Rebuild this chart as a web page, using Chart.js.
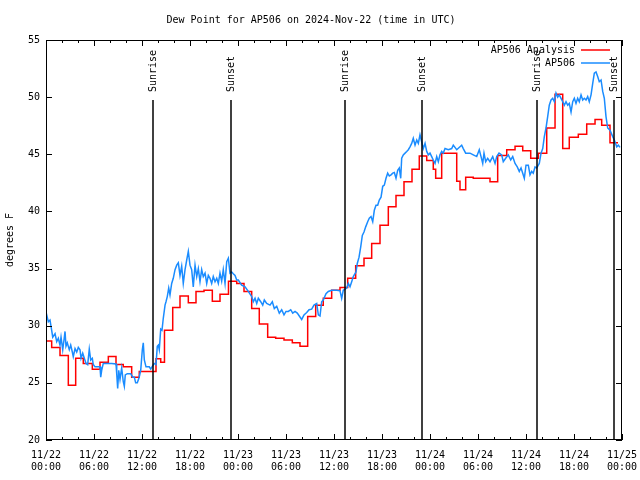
<!DOCTYPE html>
<html>
<head>
<meta charset="utf-8">
<script src="https://cdn.jsdelivr.net/npm/chart.js@4.4.1/dist/chart.umd.min.js"></script>
<style>
  html,body{margin:0;padding:0;background:#fff;}
</style>
</head>
<body>
<canvas id="chart" width="640" height="480"></canvas>
<script>
/* data: hours since 11/22 00:00 UTC */
const titleText = "Dew Point for AP506 on 2024-Nov-22 (time in UTC)";
const yTitle = "degrees F";
const tickLabels = [
  ["11/22","00:00"],["11/22","06:00"],["11/22","12:00"],["11/22","18:00"],
  ["11/23","00:00"],["11/23","06:00"],["11/23","12:00"],["11/23","18:00"],
  ["11/24","00:00"],["11/24","06:00"],["11/24","12:00"],["11/24","18:00"],
  ["11/25","00:00"]
];

const seriesNames = ["AP506 Analysis", "AP506"];

const analysisTimes = [
  0, 0.71, 1.75, 2.79, 3.71, 4.66, 5.79, 6.75, 7.79, 8.75, 9.66, 10.71, 11.66,
  13.75, 14.34, 14.81, 15.84, 16.75, 17.79, 18.75, 19.75, 20.79, 21.75, 22.81,
  23.84, 24.75, 25.71, 26.66, 27.71, 28.71, 29.75, 30.79, 31.75, 32.71, 33.71,
  34.66, 35.71, 36.75, 37.71, 38.71, 39.75, 40.71, 41.75, 42.79, 43.75, 44.75,
  45.75, 46.66, 47.59, 48.41, 48.71, 49.46, 51.34, 51.75, 52.46, 53.41, 55.5,
  56.46, 57.59, 58.63, 59.59, 60.59, 61.54, 62.59, 63.63, 64.59, 65.41, 66.54,
  67.59, 68.63, 69.46, 70.5, 71.5
];
const analysisValues = [
  28.67, 28.1, 27.4, 24.8, 27.15, 26.7, 26.2, 26.8, 27.3, 26.6, 26.4, 25.5, 26.0,
  27.1, 26.8, 29.6, 31.6, 32.6, 32.0, 33.0, 33.1, 32.15, 32.75, 33.9,
  33.7, 33.0, 31.5, 30.15, 29.0, 28.9, 28.75, 28.5, 28.2, 30.8, 31.8,
  32.4, 33.1, 33.35, 34.15, 35.25, 35.9, 37.2, 38.8, 40.4, 41.4, 42.6,
  43.7, 44.85, 44.45, 43.7, 42.9, 45.1, 42.65, 41.9, 43.0, 42.9, 42.6,
  44.9, 45.4, 45.7, 45.3, 44.65, 45.1, 47.3, 50.25, 45.5, 46.5, 46.75,
  47.65, 48.05, 47.55, 46.0, 46.0
];

const obsTimes = [
  0.00, 0.29, 0.5, 0.71, 0.84, 1.13, 1.34, 1.54, 1.75, 1.88, 2.09, 2.25, 2.38, 2.5,
  2.66, 2.91, 3.09, 3.29, 3.41, 3.63, 3.84, 4.04, 4.25, 4.38, 4.59, 4.79, 5.0, 5.21,
  5.41, 5.59, 5.79, 5.91, 6.13, 6.34, 6.75, 6.84, 6.96, 7.16, 7.59, 8.21, 8.75, 8.84,
  8.96, 9.09, 9.25, 9.46, 9.66, 9.79, 9.91, 10.16, 10.59, 10.84, 11.04, 11.21, 11.41,
  11.63, 11.84, 12.04, 12.16, 12.29, 12.5, 12.91, 13.09, 13.34, 13.54, 13.75, 13.91,
  14.04, 14.16, 14.34, 14.5, 14.66, 14.88, 15.0, 15.16, 15.34, 15.5, 15.71, 15.91,
  16.13, 16.34, 16.54, 16.75, 16.96, 17.16, 17.38, 17.59, 17.79, 18.0, 18.21, 18.41,
  18.63, 18.84, 19.04, 19.25, 19.46, 19.66, 19.88, 20.09, 20.29, 20.5, 20.71, 20.91,
  21.13, 21.34, 21.54, 21.75, 21.96, 22.16, 22.38, 22.59, 22.79, 23.0, 23.21, 23.41,
  23.63, 23.84, 24.04, 24.46, 24.88, 25.29, 25.71, 25.91, 26.13, 26.34, 26.54, 26.84,
  27.09, 27.29, 27.59, 28.0, 28.29, 28.54, 28.84, 29.16, 29.46, 29.75, 30.0, 30.29,
  30.59, 30.84, 31.13, 31.41, 31.66, 31.96, 32.25, 32.59, 32.88, 33.21, 33.5, 33.84,
  34.04, 34.25, 34.46, 34.66, 35.0, 35.29, 35.71, 36.34, 36.75, 36.96, 37.16, 37.59,
  37.79, 38.0, 38.21, 38.41, 38.75, 38.91, 39.13, 39.34, 39.54, 39.75, 39.96, 40.21,
  40.41, 40.63, 40.84, 41.04, 41.25, 41.46, 41.66, 41.88, 42.09, 42.29, 42.5, 42.71,
  42.91, 43.13, 43.34, 43.54, 43.75, 43.96, 44.16, 44.34, 44.46, 44.66, 44.88, 45.09,
  45.29, 45.5, 45.71, 45.91, 46.13, 46.34, 46.54, 46.75, 46.96, 47.16, 47.38, 47.59,
  47.79, 48.0, 48.21, 48.41, 48.63, 48.84, 49.04, 49.25, 49.46, 49.66, 49.88, 50.29,
  50.71, 50.91, 51.34, 51.96, 52.16, 52.46, 53.0, 53.41, 53.84, 54.16, 54.38, 54.59,
  54.75, 54.96, 55.21, 55.5, 55.84, 56.13, 56.34, 56.63, 56.96, 57.16, 57.46, 57.79,
  58.09, 58.34, 58.63, 58.91, 59.16, 59.38, 59.59, 59.79, 60.0, 60.29, 60.5, 60.71,
  60.91, 61.13, 61.34, 61.66, 61.88, 62.09, 62.29, 62.5, 62.71, 62.91, 63.13, 63.34,
  63.54, 63.75, 63.96, 64.16, 64.38, 64.59, 64.79, 65.0, 65.21, 65.41, 65.63, 65.84,
  66.04, 66.25, 66.46, 66.66, 66.88, 67.09, 67.29, 67.5, 67.71, 67.91, 68.13, 68.34,
  68.54, 68.75, 68.96, 69.16, 69.38, 69.59, 69.79, 70.0, 70.21, 70.5, 70.84, 71.04,
  71.34, 71.54, 71.75
];
const obsValues = [
  31.2, 30.35, 30.5, 29.6, 29.0, 29.3, 28.6, 28.9, 28.3, 29.0, 27.9, 28.75, 29.5, 28.2,
  28.5, 27.9, 28.3, 27.7, 27.3, 28.0, 27.7, 28.1, 27.9, 27.15, 27.6, 27.15, 26.7, 26.6,
  27.95, 27.0, 27.15, 26.6, 26.4, 26.4, 26.4, 25.5, 26.1, 26.7, 26.7, 26.7, 26.65, 25.8,
  24.5, 26.1, 25.3, 26.3, 25.1, 24.7, 25.7, 25.8, 25.8, 25.5, 25.5, 25.0, 25.0,
  25.45, 26.1, 27.9, 28.5, 27.0, 26.4, 26.4, 26.2, 26.5, 26.7, 26.6, 28.2,
  28.3, 27.9, 29.7, 29.6, 30.65, 31.8, 32.1, 32.55, 33.3, 32.7, 33.7, 34.15,
  34.9, 35.3, 35.5, 34.4, 35.2, 33.7, 34.9, 35.75, 36.5, 35.3, 34.9, 33.4,
  35.3, 34.3, 35.0, 33.85, 34.9, 34.3, 34.6, 33.7, 34.4, 34.15, 33.7, 34.3,
  33.85, 34.15, 33.7, 34.6, 33.9, 34.9, 33.7, 35.6, 35.9, 34.6, 34.7, 34.55,
  34.4, 34.0, 34.0, 33.55, 33.4, 33.0, 32.55, 32.1, 32.4, 31.95, 32.4, 32.1,
  31.8, 32.25, 31.95, 31.8, 32.1, 31.5, 31.7, 31.1, 31.4, 30.95, 31.25, 31.25,
  31.4, 31.1, 31.25, 31.1, 30.85, 30.55, 30.95, 31.15, 31.4, 31.45, 31.8, 31.95,
  30.95, 30.85, 32.1, 32.25, 32.8, 33.0, 33.1, 33.1, 33.05, 32.4, 33.1, 33.3,
  33.7, 33.4, 33.85, 34.3, 34.7, 35.45, 36.0, 36.9, 37.9, 38.2, 38.65, 39.1,
  39.4, 39.55, 39.1, 40.1, 40.55, 40.55, 41.0, 41.25, 42.2, 42.3, 42.9, 43.35,
  43.1, 43.2, 43.35, 43.4, 42.9, 43.6, 43.8, 42.9, 44.65, 44.95, 45.1, 45.25,
  45.4, 45.65, 45.95, 46.4, 45.8, 46.25, 45.95, 46.7, 46.1, 45.5, 45.95, 45.25,
  44.95, 45.1, 44.8, 44.5, 44.2, 44.8, 44.35, 44.95, 45.25, 45.1, 45.5, 45.4,
  45.5, 45.8, 45.4, 45.8, 45.5, 45.1, 45.1, 44.95, 44.8, 45.4, 44.8, 44.2,
  45.1, 44.35, 44.65, 44.35, 44.8, 44.2, 44.8, 45.1, 44.95, 44.35, 44.65, 44.95,
  44.5, 44.8, 44.2, 43.9, 43.5, 43.8, 43.35, 42.9, 44.05, 44.05, 43.2, 43.5,
  43.35, 43.9, 43.8, 44.2, 45.1, 45.5, 46.55, 47.3, 48.3, 49.3, 49.75, 49.9,
  49.6, 50.35, 50.0, 50.2, 49.9, 49.6, 49.3, 49.6, 49.3, 49.45, 48.7, 49.6,
  49.9, 49.45, 49.9, 49.6, 50.2, 49.75, 49.9, 49.75, 50.05, 49.6, 50.2, 51.2,
  52.1, 52.2, 51.8, 51.35, 51.5, 50.5, 49.9, 48.3, 47.3, 47.1, 46.55, 46.25,
  45.65, 45.8, 45.6
];

const sunTimes = [13.41, 23.16, 37.41, 47.04, 61.41, 71.04];
const sunLabels = ["Sunrise", "Sunset", "Sunrise", "Sunset", "Sunrise", "Sunset"];

const FONT = "'DejaVu Sans Mono', monospace";
const RED = "#ff0000";
const BLUE = "#1a8cff";

const frame = {
  id: "frame",
  afterDatasetsDraw(chart){
    const {ctx, chartArea:a, scales:{x}} = chart;
    ctx.save();
    // sunrise / sunset markers
    ctx.strokeStyle = "#000";
    ctx.lineWidth = 1.5;
    ctx.fillStyle = "#000";
    ctx.font = "10px " + FONT;
    const h = a.bottom - a.top;
    sunTimes.forEach((t, i) => {
      const px = Math.round(x.getPixelForValue(t));
      ctx.beginPath();
      ctx.moveTo(px, a.bottom);
      ctx.lineTo(px, a.bottom - h * 0.85);
      ctx.stroke();
      ctx.save();
      ctx.translate(px, a.bottom - h * 0.87);
      ctx.rotate(-Math.PI / 2);
      ctx.textAlign = "left";
      ctx.textBaseline = "middle";
      ctx.fillText(sunLabels[i], 0, 0);
      ctx.restore();
    });
    ctx.restore();
  },
  afterDraw(chart){
    const {ctx, chartArea:a, scales:{x, y}} = chart;
    ctx.save();
    ctx.strokeStyle = "#000";
    ctx.lineWidth = 1;
    ctx.strokeRect(a.left + 0.5, a.top + 0.5, a.right - a.left - 1, a.bottom - a.top - 1);
    ctx.beginPath();
    for (let t = 0; t <= 72; t += 2) {
      const px = Math.round(x.getPixelForValue(t)) + 0.5;
      const len = t % 6 === 0 ? 6 : 3;
      ctx.moveTo(px, a.bottom); ctx.lineTo(px, a.bottom - len);
      ctx.moveTo(px, a.top); ctx.lineTo(px, a.top + len);
    }
    for (let v = 20; v <= 55; v += 5) {
      const py = Math.round(y.getPixelForValue(v)) + 0.5;
      ctx.moveTo(a.left, py); ctx.lineTo(a.left + 6, py);
      ctx.moveTo(a.right, py); ctx.lineTo(a.right - 6, py);
    }
    ctx.stroke();

    // key, top right
    ctx.font = "10px " + FONT;
    ctx.fillStyle = "#000";
    ctx.textAlign = "right";
    ctx.textBaseline = "middle";
    [[seriesNames[0], RED, 50], [seriesNames[1], BLUE, 63]].forEach(([name, col, ly]) => {
      ctx.fillText(name, 575, ly);
      ctx.strokeStyle = col;
      ctx.lineWidth = 1.5;
      ctx.beginPath();
      ctx.moveTo(581, ly); ctx.lineTo(610, ly);
      ctx.stroke();
    });
    ctx.restore();
  }
};

new Chart(document.getElementById("chart"), {
  type: "line",
  data: {
    datasets: [
      {
        label: seriesNames[0],
        data: analysisTimes.map((t, i) => ({x: t, y: analysisValues[i]})),
        borderColor: RED,
        borderWidth: 1.5,
        stepped: true,
        pointRadius: 0,
        order: 1
      },
      {
        label: seriesNames[1],
        data: obsTimes.map((t, i) => ({x: t, y: obsValues[i]})),
        borderColor: BLUE,
        borderWidth: 1.5,
        tension: 0,
        pointRadius: 0,
        order: 0
      }
    ]
  },
  options: {
    responsive: false,
    animation: false,
    devicePixelRatio: 1,
    layout: {padding: {top: 6, right: 18, left: 0, bottom: 0}},
    plugins: {
      legend: {display: false},
      tooltip: {enabled: false},
      title: {
        display: true,
        text: titleText,
        color: "#000",
        font: {family: FONT, size: 10, weight: "normal"},
        padding: {top: 8, bottom: 14}
      }
    },
    scales: {
      x: {
        type: "linear",
        min: 0, max: 72,
        grid: {display: false, drawTicks: false},
        border: {display: false},
        ticks: {
          stepSize: 6,
          autoSkip: false,
          maxRotation: 0,
          padding: 9,
          color: "#000",
          font: {family: FONT, size: 10},
          callback: (v) => tickLabels[Math.round(v / 6)]
        },
        afterFit: (s) => { s.height = 40; s.paddingLeft = 0; s.paddingRight = 0; }
      },
      y: {
        min: 20, max: 55,
        grid: {display: false, drawTicks: false},
        border: {display: false},
        ticks: {
          stepSize: 5,
          padding: 6,
          color: "#000",
          font: {family: FONT, size: 10}
        },
        title: {
          display: true,
          text: yTitle,
          color: "#000",
          font: {family: FONT, size: 10},
          padding: {top: 4, bottom: 0}
        },
        afterFit: (s) => { s.width = 46; s.paddingTop = 0; s.paddingBottom = 0; }
      }
    }
  },
  plugins: [frame]
});
</script>
</body>
</html>
